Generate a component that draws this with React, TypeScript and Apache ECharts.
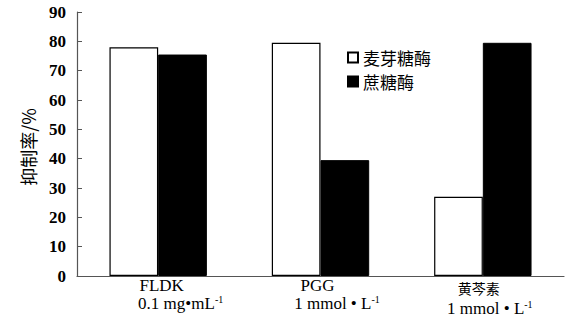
import React, { useEffect, useRef } from "react";
import * as echarts from "echarts";

const categories = ["FLDK", "PGG", "黄芩素"];
const concentrations = ["0.1 mg•mL", "1 mmol • L", "1 mmol • L"];
const superscripts = ["-1", "-1", "-1"];
const seriesNames = ["麦芽糖酶", "蔗糖酶"];
const maltaseValues = [78, 79.5, 27];
const sucraseValues = [75.5, 39.5, 79.5];
const yAxisName = "抑制率/%";

const serif = "Liberation Serif";
const cjk = "Noto Sans CJK SC";

export default function App() {
  const ref = useRef<HTMLDivElement>(null);
  useEffect(() => {
    if (!ref.current) return;
    const chart = echarts.init(ref.current, undefined, { renderer: "svg" });
    const line1Pad = [7, -6, -8];
    const line2Pad = [45, 33, 14];
    const line1Height = [18, 18, 23];
    const rich: Record<string, any> = {};
    categories.forEach((_, i) => {
      rich["n" + i] = {
        fontFamily: i === 2 ? cjk : serif,
        fontSize: i === 2 ? 14 : 17,
        color: "#000",
        lineHeight: line1Height[i],
        padding: [0, line1Pad[i] < 0 ? -line1Pad[i] : 0, 0, line1Pad[i] > 0 ? line1Pad[i] : 0],
      };
      rich["c" + i] = {
        fontFamily: serif,
        fontSize: 17,
        color: "#000",
        lineHeight: 18,
        padding: [0, 0, 0, line2Pad[i]],
      };
      rich["s" + i] = {
        fontFamily: serif,
        fontSize: 10,
        color: "#000",
        lineHeight: 18,
        verticalAlign: "top",
        padding: [0, 0, 8, 0],
      };
    });
    const option: echarts.EChartsOption = {
      animation: false,
      grid: { left: 77, right: 13, top: 12, bottom: 47, containLabel: false },
      legend: {
        orient: "vertical",
        left: 342,
        top: 44,
        itemWidth: 10,
        itemHeight: 10,
        itemGap: 7,
        icon: "rect",
        textStyle: { fontFamily: cjk, fontSize: 17, color: "#000" },
        data: seriesNames,
      },
      xAxis: {
        type: "category",
        data: categories,
        axisLine: { lineStyle: { color: "#555", width: 1.2 } },
        axisTick: { inside: true, length: 4, lineStyle: { color: "#555" } },
        axisLabel: {
          margin: 0,
          interval: 0,
          formatter: (value: string, idx: number) =>
            `{n${idx}|${value}}\n{c${idx}|${concentrations[idx]}}{s${idx}|${superscripts[idx]}}`,
          rich,
        },
      },
      yAxis: {
        type: "value",
        min: 0,
        max: 90,
        interval: 10,
        name: yAxisName,
        nameLocation: "middle",
        nameGap: 40,
        nameRotate: 90,
        nameTextStyle: { fontFamily: cjk, fontSize: 18, color: "#000", padding: [0, 6, 0, 0] },
        axisLine: { show: true, lineStyle: { color: "#555", width: 1.2 } },
        axisTick: { show: true, inside: true, length: 5, lineStyle: { color: "#555" } },
        splitLine: { show: false },
        axisLabel: {
          margin: 11,
          fontFamily: serif,
          fontSize: 17,
          fontWeight: "bold",
          color: "#000",
        },
      },
      series: [
        {
          name: seriesNames[0],
          type: "bar",
          data: maltaseValues,
          barGap: "0%",
          barCategoryGap: "40%",
          itemStyle: { color: "#fff", borderColor: "#000", borderWidth: 1.2 },
        },
        {
          name: seriesNames[1],
          type: "bar",
          data: sucraseValues,
          barGap: "0%",
          barCategoryGap: "40%",
          itemStyle: { color: "#000", borderColor: "#000", borderWidth: 1 },
        },
      ],
    };
    chart.setOption(option);
    return () => chart.dispose();
  }, []);
  return (
    <div
      ref={ref}
      style={{ position: "fixed", left: 0, top: 0, width: 577, height: 323, background: "#fff" }}
    />
  );
}
